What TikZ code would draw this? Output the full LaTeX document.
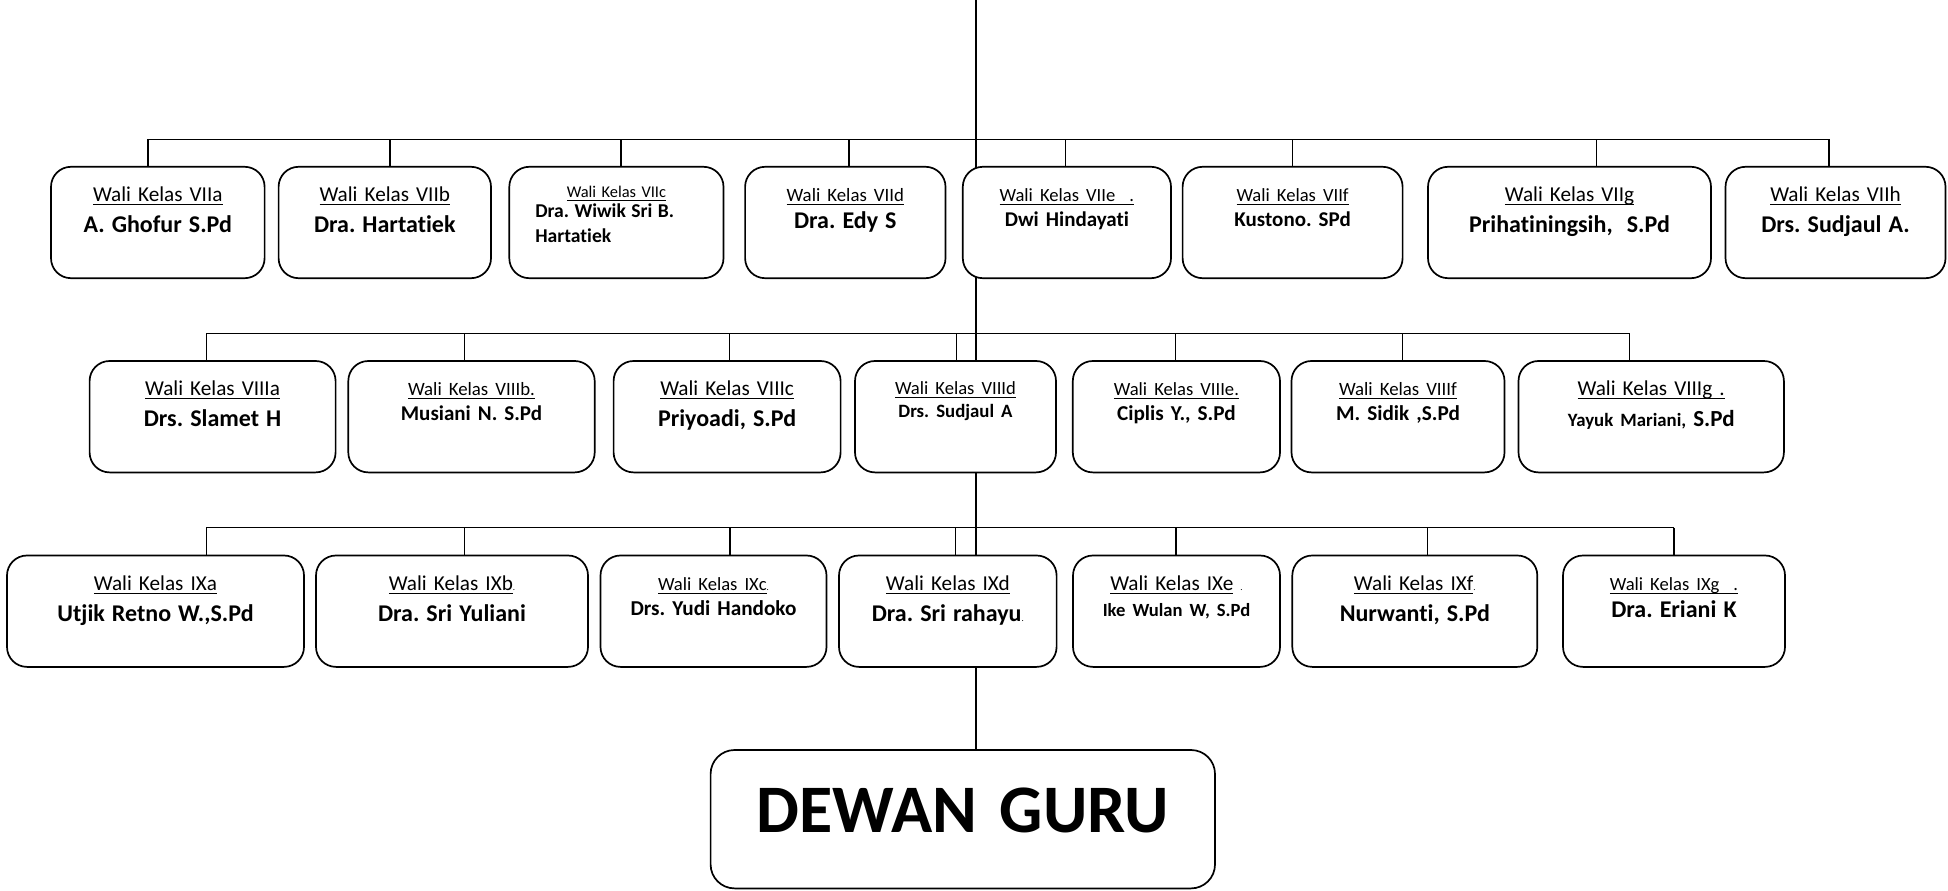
\documentclass[tikz,border=0pt]{standalone}
\usepackage{fontspec}
\setmainfont{Carlito}[Ligatures=NoCommon]
\usepackage{tikz}
\usetikzlibrary{backgrounds}
\frenchspacing

\newcommand{\kelas}[2][10.6]{{\fontsize{#1}{15.4}\selectfont\setbox0\hbox{#2}\copy0\llap{\rule[-0.17em]{\wd0}{0.05em}}}}
\newcommand{\nama}[2][12]{{\fontsize{#1}{15.4}\selectfont\bfseries #2}}
\newcommand{\titik}{{\fontsize{4.5}{5}\selectfont.}}

\begin{document}
\begin{tikzpicture}[x=0.5pt,y=0.5pt,
  wbox/.style={draw, line width=0.85pt, rounded corners=10pt, fill=white, inner sep=0pt, align=center, text height=17.4pt, text depth=38.3pt, font=\fontsize{10.6}{15.4}\selectfont},
  dewan/.style={draw, line width=0.85pt, rounded corners=12pt, fill=white, inner sep=0pt, align=center, text width=252.2pt, text height=41.4pt, text depth=27.8pt, font=\fontsize{34}{40}\selectfont\bfseries},
  garis/.style={line width=0.7pt}]
\useasboundingbox (0,0) rectangle (1948,890);

% kelas VII
\node[wbox, text width=106.8pt] (k7a) at (157.8,667.5) {\kelas{Wali Kelas VIIa}\\\nama{A. Ghofur S.Pd}};
\node[wbox, text width=106.2pt] (k7b) at (384.8,667.5) {\kelas{Wali Kelas VIIb}\\\nama{Dra. Hartatiek}};
\node[wbox, text width=107.1pt, align=left, text height=15.5pt, text depth=40.2pt, font=\fontsize{8.2}{12.5}\selectfont] (k7c) at (616.4,667.5) {\hfill\kelas[8.2]{Wali Kelas VIIc}\hfill\null\\[-2.5pt]\hspace*{13pt}\nama[9.8]{Dra. Wiwik Sri B.}\\\hspace*{13pt}\nama[9.8]{Hartatiek}};
\node[wbox, text width=100.2pt] (k7d) at (845.3,667.5) {\kelas[9.4]{Wali Kelas VIId}\\[-2pt]\nama{Dra. Edy S}};
\node[wbox, text width=104.1pt] (k7e) at (1066.9,667.5) {\kelas[9.3]{Wali Kelas VIIe\ \ .}\\[-2.8pt]\nama[10.5]{Dwi Hindayati}};
\node[wbox, text width=110pt] (k7f) at (1292.6,667.5) {\kelas[9.3]{Wali Kelas VIIf}\\[-2.8pt]\nama[10.5]{Kustono. SPd}};
\node[wbox, text width=141.5pt] (k7g) at (1569.5,667.5) {\kelas{Wali Kelas VIIg}\\\nama{Prihatiningsih,\ \ S.Pd}};
\node[wbox, text width=110pt] (k7h) at (1835.5,667.5) {\kelas{Wali Kelas VIIh}\\\nama{Drs. Sudjaul A.}};

% kelas VIII
\node[wbox, text width=123pt] (k8a) at (212.6,473.3) {\kelas{Wali Kelas VIIIa}\\\nama{Drs. Slamet H}};
\node[wbox, text width=123.2pt] (k8b) at (471.5,473.3) {\kelas[9.4]{Wali Kelas VIIIb.}\\[-3pt]\nama[10.5]{Musiani N. S.Pd}};
\node[wbox, text width=113.5pt] (k8c) at (727.1,473.3) {\kelas{Wali Kelas VIIIc}\\\nama{Priyoadi, S.Pd}};
\node[wbox, text width=100.5pt, text height=16.8pt, text depth=38.9pt] (k8d) at (955.5,473.3) {\kelas[9.3]{Wali Kelas VIIId}\\[-3.8pt]\nama[9.4]{Drs. Sudjaul A}};
\node[wbox, text width=103.6pt] (k8e) at (1176.4,473.3) {\kelas[9.3]{Wali Kelas VIIIe.}\\[-3pt]\nama[10.6]{Ciplis Y., S.Pd}};
\node[wbox, text width=106.5pt] (k8f) at (1398,473.3) {\kelas[9.4]{Wali Kelas VIIIf}\\[-3pt]\nama[10.6]{M. Sidik ,S.Pd}};
\node[wbox, text width=132.7pt] (k8g) at (1651.2,473.3) {\kelas{Wali Kelas VIIIg .}\\\nama[9.4]{Yayuk Mariani, {\fontsize{11.5}{15.4}\selectfont S.Pd}}};

% kelas IX
\node[wbox, text width=148.5pt] (k9a) at (155.5,278.8) {\kelas{Wali Kelas IXa}\\\nama{Utjik Retno W.,S.Pd}};
\node[wbox, text width=136pt] (k9b) at (452,278.8) {\kelas{Wali Kelas IXb}\titik\\\nama{Dra. Sri Yuliani}};
\node[wbox, text width=113pt] (k9c) at (713.5,278.8) {\kelas[9.3]{Wali Kelas IXc}\titik\\[-3pt]\nama[10.6]{Drs. Yudi Handoko}};
\node[wbox, text width=108.8pt] (k9d) at (947.8,278.8) {\kelas{Wali Kelas IXd}\\\nama{Dra. Sri rahayu}\titik};
\node[wbox, text width=103.5pt] (k9e) at (1176.5,278.8) {\kelas{Wali Kelas IXe}\ \titik\\[-2.3pt]\nama[9.3]{Ike Wulan W, S.Pd}};
\node[wbox, text width=122.5pt] (k9f) at (1414.8,278.8) {\kelas{Wali Kelas IXf}\titik\\\nama{Nurwanti, S.Pd}};
\node[wbox, text width=111pt] (k9g) at (1674,278.8) {\kelas[9.3]{Wali Kelas IXg\ \ .}\\[-2pt]\nama{Dra. Eriani K}};

\node[dewan] (dewan) at (962.8,70.8) {DEWAN GURU};

\coordinate (puncak) at (975.8,890);

\begin{scope}[on background layer]
% garis tegak utama
\draw[garis] (puncak) -- (puncak |- dewan.north);
% cabang ke tiap kotak
\foreach \k/\x/\y in {7a/147.8/750.7, 7b/390/750.7, 7c/621/750.7, 7d/848.8/750.7, 7e/1065.6/750.7, 7f/1292.4/750.7, 7g/1596.3/750.7, 7h/1829/750.7,
  8a/206.3/556.7, 8b/464.6/556.7, 8c/729.7/556.7, 8d/956.7/556.7, 8e/1175.2/556.7, 8f/1402.3/556.7, 8g/1629.6/556.7,
  9a/206.2/362.5, 9b/464.5/362.5, 9c/730/362.5, 9d/955.5/362.5, 9e/1176/362.5, 9f/1427.7/362.5, 9g/1673.8/362.5}
{
  \coordinate (d\k) at (\x,\y);
  \draw[garis] (d\k) -- (d\k |- k\k.north);
}
\draw[garis] (d7a) -- (d7h);
\draw[garis] (d8a) -- (d8g);
\draw[garis] (d9a) -- (d9g);
\end{scope}
\end{tikzpicture}
\end{document}
